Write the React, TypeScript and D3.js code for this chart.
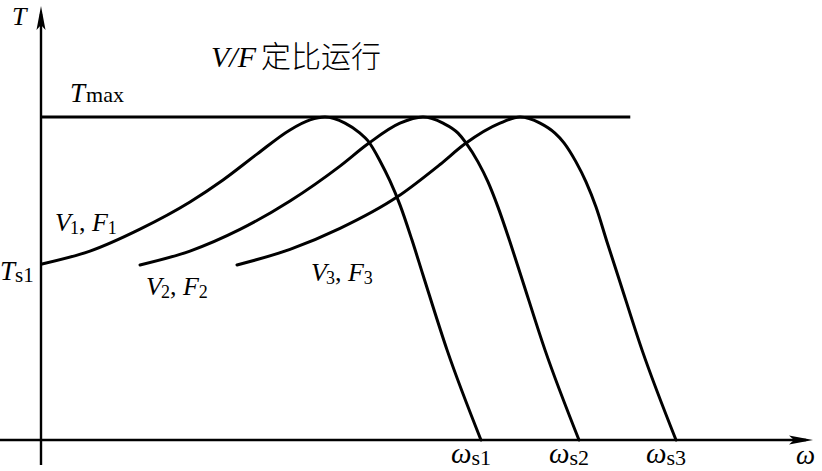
import React from "react";
import * as d3 from "d3";

// ---- data (ω in arbitrary units 0..100, T normalised so that Tmax = 1) ----
const curve1Omega = [0, 6.23, 12.73, 19.22, 23.51, 27.92, 32.21, 34.81, 36.75, 39.35, 41.3, 42.34, 43.9, 45.19, 46.49, 48.05, 49.48, 52.6, 57.01];
const curve1T = [0.545, 0.585, 0.653, 0.737, 0.805, 0.885, 0.96, 0.991, 1.0, 0.981, 0.95, 0.926, 0.864, 0.802, 0.728, 0.619, 0.511, 0.279, 0];

const curve2Omega = [12.73, 19.22, 25.71, 32.21, 38.7, 42.34, 46.49, 49.48, 52.08, 54.03, 55.06, 56.62, 57.92, 59.22, 60.78, 62.21, 65.32, 69.74];
const curve2T = [0.542, 0.585, 0.652, 0.74, 0.848, 0.917, 0.981, 1.0, 0.981, 0.95, 0.92, 0.861, 0.799, 0.721, 0.613, 0.508, 0.279, 0];

const curve3Omega = [25.32, 32.21, 38.7, 46.1, 51.69, 54.94, 59.48, 62.08, 64.68, 66.62, 67.79, 69.35, 70.65, 71.95, 73.38, 74.81, 77.92, 82.34];
const curve3T = [0.542, 0.59, 0.655, 0.752, 0.853, 0.917, 0.981, 1.0, 0.981, 0.95, 0.92, 0.861, 0.799, 0.721, 0.613, 0.508, 0.279, 0];

const tMax = 1;
const tMaxLineEnd = 76.4;
const syncSpeeds = [57.0, 69.74, 82.34];
const syncLabels = ["s1", "s2", "s3"];
const curveLabels = [
  { v: "1", f: "1" },
  { v: "2", f: "2" },
  { v: "3", f: "3" },
];
const titleLatin = "V/F";
const titleCJK = "定比运行";

const W = 822;
const H = 471;

export default function App() {
  const x = d3.scaleLinear().domain([0, 100]).range([42, 812]);
  const y = d3.scaleLinear().domain([0, 1]).range([440, 117]);

  const line = d3
    .line<[number, number]>()
    .x((d) => x(d[0]))
    .y((d) => y(d[1]))
    .curve(d3.curveMonotoneX);

  const curves = [
    curve1Omega.map((o, i) => [o, curve1T[i]] as [number, number]),
    curve2Omega.map((o, i) => [o, curve2T[i]] as [number, number]),
    curve3Omega.map((o, i) => [o, curve3T[i]] as [number, number]),
  ];

  const serif = "'Liberation Serif', 'DejaVu Serif', serif";
  const cjk = "'Noto Sans CJK SC', sans-serif";
  const x0 = x(0);
  const y0 = y(0);

  const curveLabelPos = [
    [55, 231],
    [146, 295],
    [311, 281],
  ];

  return (
    <svg
      width={W}
      height={H}
      viewBox={`0 0 ${W} ${H}`}
      style={{ position: "absolute", left: 0, top: 0, background: "#fff" }}
    >
      <rect x={0} y={0} width={W} height={H} fill="#fff" />
      {/* axes */}
      <line x1={x0 - 1} y1={465} x2={x0 - 1} y2={14} stroke="#000" strokeWidth={2.4} />
      <path d={`M${x0 - 1},6 L${x0 - 5.5},30 L${x0 - 1},25 L${x0 + 3.5},30 Z`} fill="#000" />
      <line x1={0} y1={y0} x2={806} y2={y0} stroke="#000" strokeWidth={2.4} />
      <path d={`M813,${y0} L789,${y0 - 4.5} L794,${y0} L789,${y0 + 4.5} Z`} fill="#000" />

      {/* Tmax line */}
      <line x1={x0} y1={y(tMax)} x2={x(tMaxLineEnd)} y2={y(tMax)} stroke="#000" strokeWidth={3} />

      {/* curves */}
      {curves.map((c, i) => (
        <path key={i} d={line(c) || ""} fill="none" stroke="#000" strokeWidth={3} strokeLinecap="round" />
      ))}

      {/* axis labels */}
      <text x={796} y={464} fontFamily={serif} fontStyle="italic" fontSize={27}>ω</text>

      <text x={12} y={25} fontFamily={serif} fontStyle="italic" fontSize={26}>T</text>

      {/* title */}
      <text x={211} y={67} fontFamily={serif} fontStyle="italic" fontSize={30}>{titleLatin}</text>
      <text x={261} y={67} fontFamily={cjk} fontWeight={300} fontSize={30}>{titleCJK}</text>

      {/* Tmax */}
      <text x={70} y={102} fontFamily={serif} fontSize={27}>
        <tspan fontStyle="italic">T</tspan>
        <tspan fontSize={22} dx={1}>max</tspan>
      </text>

      {/* Ts1 */}
      <text x={0} y={280} fontFamily={serif} fontSize={27}>
        <tspan fontStyle="italic">T</tspan>
        <tspan fontSize={21} dy={2}>s1</tspan>
      </text>

      {/* curve labels */}
      {curveLabels.map((l, i) => (
        <text key={i} x={curveLabelPos[i][0]} y={curveLabelPos[i][1]} fontFamily={serif} fontSize={26}>
          <tspan fontStyle="italic">V</tspan>
          <tspan fontSize={18} dx={-1} dy={3}>{l.v}</tspan>
          <tspan dy={-3}>, </tspan>
          <tspan fontStyle="italic">F</tspan>
          <tspan fontSize={18} dy={3}>{l.f}</tspan>
        </text>
      ))}

      {/* synchronous speeds */}
      {syncSpeeds.map((s, i) => (
        <text key={i} x={x(s) - 30} y={463} fontFamily={serif} fontSize={29}>
          <tspan fontStyle="italic">ω</tspan>
          <tspan fontSize={22} dy={2}>{syncLabels[i]}</tspan>
        </text>
      ))}
    </svg>
  );
}
